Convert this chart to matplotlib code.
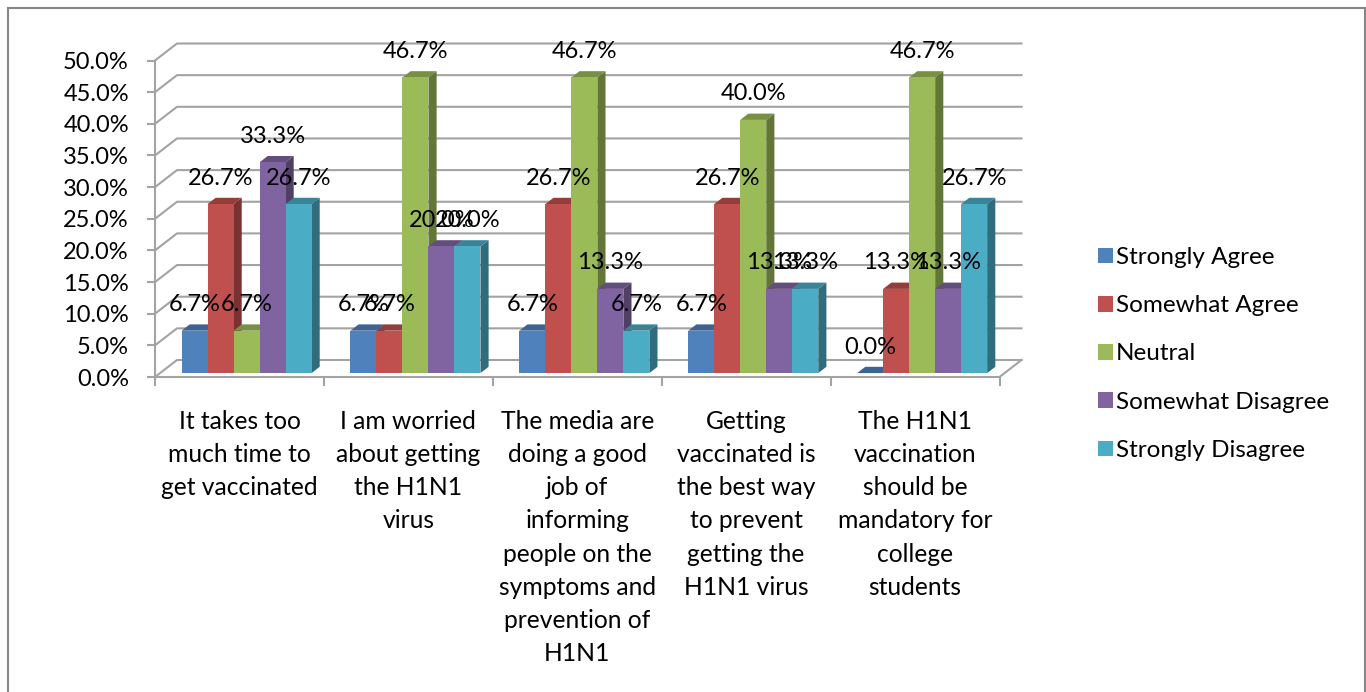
import matplotlib
matplotlib.use('Agg')
import matplotlib.pyplot as plt
from matplotlib.lines import Line2D
from matplotlib.patches import Patch, Polygon
from matplotlib.colors import to_rgb

plt.rcParams['font.family'] = ['Lato', 'DejaVu Sans']

questions = [
    'It takes too\nmuch time to\nget vaccinated',
    'I am worried\nabout getting\nthe H1N1\nvirus',
    'The media are\ndoing a good\njob of\ninforming\npeople on the\nsymptoms and\nprevention of\nH1N1',
    'Getting\nvaccinated is\nthe best way\nto prevent\ngetting the\nH1N1 virus',
    'The H1N1\nvaccination\nshould be\nmandatory for\ncollege\nstudents',
]
series_names = ['Strongly Agree', 'Somewhat Agree', 'Neutral', 'Somewhat Disagree', 'Strongly Disagree']
strongly_agree = [6.7, 6.7, 6.7, 6.7, 0.0]
somewhat_agree = [26.7, 6.7, 26.7, 26.7, 13.3]
neutral = [6.7, 46.7, 46.7, 40.0, 46.7]
somewhat_disagree = [33.3, 20.0, 13.3, 13.3, 13.3]
strongly_disagree = [26.7, 20.0, 6.7, 13.3, 26.7]
series = [strongly_agree, somewhat_agree, neutral, somewhat_disagree, strongly_disagree]
colors = ['#4F81BD', '#C0504D', '#9BBB59', '#8064A2', '#4BACC6']
y_ticks = [0, 5, 10, 15, 20, 25, 30, 35, 40, 45, 50]

W, H = 1366, 692
GRID = '#A3A3A3'
FS = 17

fig = plt.figure(figsize=(W / 100, H / 100), dpi=100, facecolor='white')
ax = fig.add_axes([155 / W, 1 - 377 / H, 844.5 / W, 316.5 / H])
ax.set_xlim(0, 5)
ax.set_ylim(0, 50)
ax.patch.set_visible(False)

# one unit of depth, in data units
px_x = 5 / 844.5
px_y = 50 / 316.5
DX = 22 * px_x
DY = 17 * px_y


def shade(c, f):
    return tuple(v * f for v in to_rgb(c))


# back wall, side wall and floor
for t in y_ticks:
    ax.plot([0, DX, 5 + DX], [t, t + DY, t + DY], color=GRID, lw=1.5, clip_on=False, zorder=1)
ax.plot([5, 5 + DX], [0, DY], color=GRID, lw=1.5, clip_on=False, zorder=1)

for s in ['top', 'right']:
    ax.spines[s].set_visible(False)
for s in ['left', 'bottom']:
    ax.spines[s].set_color(GRID)
    ax.spines[s].set_linewidth(1.5)
    ax.spines[s].set_zorder(2)

ax.set_yticks(y_ticks)
ax.set_yticklabels([f'{t:.1f}%' for t in y_ticks], fontsize=FS, color='black', va='center_baseline')
ax.tick_params(axis='y', length=5.8, width=1.5, color=GRID, pad=13)
ax.set_xticks(range(6))
ax.set_xticklabels([''] * 6)
ax.tick_params(axis='x', which='major', length=6.5, width=1.5, color=GRID)
ax.set_xticks([i + 0.5 for i in range(5)], minor=True)
ax.set_xticklabels(questions, minor=True, fontsize=17.7, linespacing=1.54, ha='center', va='top')
ax.tick_params(axis='x', which='minor', length=0, pad=23.5)

# bars sit part way into the depth of the floor
z0, z1 = 0.23, 0.60
bar_w = 26 * px_x
first = 21.5 * px_x
base = z0 * DY
for i in range(5):
    for j, vals in enumerate(series):
        v = vals[i]
        x0 = i + first + z0 * DX + j * bar_w
        x1 = x0 + bar_w
        top = base + v
        ddx = (z1 - z0) * DX
        ddy = (z1 - z0) * DY
        ax.add_patch(Polygon([(x1, base), (x1 + ddx, base + ddy), (x1 + ddx, top + ddy), (x1, top)],
                             facecolor=shade(colors[j], 0.63), edgecolor='none', clip_on=False, zorder=3))
        ax.add_patch(Polygon([(x0, top), (x0 + ddx, top + ddy), (x1 + ddx, top + ddy), (x1, top)],
                             facecolor=shade(colors[j], 0.77), edgecolor='none', clip_on=False, zorder=3))
        ax.bar(x0, v, width=bar_w, bottom=base, align='edge', color=colors[j], linewidth=0, clip_on=False, zorder=3)

for i in range(5):
    for j, vals in enumerate(series):
        x0 = i + first + z0 * DX + j * bar_w
        ax.annotate(f'{vals[i]:.1f}%', (x0 + bar_w / 2, base + vals[i]), xytext=(0, 18.7),
                    textcoords='offset points', ha='center', va='center',
                    fontsize=FS, color='black', zorder=5, annotation_clip=False)

handles = [Patch(facecolor=c, edgecolor='none') for c in colors]
fig.legend(handles, series_names, loc='center left', bbox_to_anchor=(1098 / W, 1 - 354 / H),
           frameon=False, fontsize=17.5, handlelength=0.62, handleheight=0.62,
           handletextpad=0.12, labelspacing=1.12, borderpad=0, borderaxespad=0)

# chart frame, the bottom edge is cut off
frame = [(8, H), (8, 8), (1365, 8), (1365, H)]
fig.add_artist(Line2D([p[0] / W for p in frame], [1 - p[1] / H for p in frame],
                      color='#868686', lw=1.5, solid_joinstyle='miter'))

fig.savefig('out.png', dpi=100)
